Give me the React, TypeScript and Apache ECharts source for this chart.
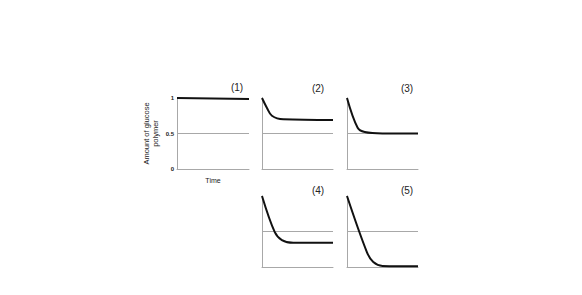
import React, { useEffect, useRef } from "react";
import * as echarts from "echarts";

const panelLabels = ["(1)", "(2)", "(3)", "(4)", "(5)"];
const yTickLabels = ["0", "0.5", "1"];
const yAxisName = "Amount of glucose\npolymer";
const xAxisName = "Time";

// time (0..10) and amount (0..1) for each panel
const time1 = [0, 10];
const amount1 = [1.0, 0.985];
const time2 = [0, 0.7, 1.4, 3, 10];
const amount2 = [1.0, 0.86, 0.75, 0.7, 0.69];
const time3 = [0, 1.5, 2.5, 5, 10];
const amount3 = [1.0, 0.58, 0.52, 0.5, 0.5];
const time4 = [0, 1.8, 2.8, 4.4, 10];
const amount4 = [1.0, 0.49, 0.38, 0.34, 0.34];
const time5 = [0, 2.8, 3.7, 5, 10];
const amount5 = [1.0, 0.21, 0.07, 0.015, 0.01];

const times = [time1, time2, time3, time4, time5];
const amounts = [amount1, amount2, amount3, amount4, amount5];

const grids = [
  { left: 177, top: 98, width: 72, height: 71 },
  { left: 262, top: 98, width: 71, height: 71 },
  { left: 347, top: 98, width: 71, height: 71 },
  { left: 262, top: 196, width: 71, height: 71 },
  { left: 347, top: 196, width: 71, height: 71 },
];
const labelPos = [
  [237, 87],
  [318, 88],
  [407, 88],
  [318, 190],
  [407, 190],
];

const AXIS = "#a8a8a8";
const FONT = "Liberation Sans, Arial, sans-serif";

export default function App() {
  const ref = useRef<HTMLDivElement>(null);
  useEffect(() => {
    if (!ref.current) return;
    const chart = echarts.init(ref.current, undefined, { renderer: "svg" });
    const option: any = {
      animation: false,
      backgroundColor: "#ffffff",
      textStyle: { fontFamily: FONT },
      grid: grids.map((g) => ({ ...g, containLabel: false })),
      xAxis: grids.map((_, i) => ({
        type: "value",
        gridIndex: i,
        min: 0,
        max: 10,
        axisLine: { show: true, lineStyle: { color: AXIS, width: 1 } },
        axisTick: { show: false },
        axisLabel: { show: false },
        splitLine: { show: false },
        name: i === 0 ? xAxisName : "",
        nameLocation: "middle",
        nameGap: 8,
        nameTextStyle: { fontSize: 7, color: "#222", fontFamily: FONT },
      })),
      yAxis: grids.map((_, i) => ({
        type: "value",
        gridIndex: i,
        min: 0,
        max: 1,
        interval: 0.5,
        axisLine: { show: true, onZero: false, lineStyle: { color: AXIS, width: 1 } },
        axisTick: { show: false },
        axisLabel: {
          show: i === 0,
          fontSize: 6,
          fontWeight: "bold",
          color: "#222",
          margin: 3,
          formatter: (v: number) => yTickLabels[Math.round(v * 2)] ?? "",
        },
        splitLine: { show: false },
        name: i === 0 ? yAxisName : "",
        nameLocation: "middle",
        nameRotate: 90,
        nameGap: 17,
        nameTextStyle: { fontSize: 7.5, color: "#222", lineHeight: 9, fontFamily: FONT },
      })),
      series: grids.map((_, i) => ({
        type: "line",
        xAxisIndex: i,
        yAxisIndex: i,
        data: times[i].map((t, k) => [t, amounts[i][k]]),
        smooth: 0.35,
        symbol: "none",
        clip: false,
        lineStyle: { color: "#111", width: 2 },
        markLine: {
          silent: true,
          symbol: "none",
          label: { show: false },
          lineStyle: { color: AXIS, width: 1, type: "solid" },
          data: [{ yAxis: 0.5 }],
        },
        z: 5,
      })),
      graphic: panelLabels.map((t, i) => ({
        type: "text",
        x: labelPos[i][0],
        y: labelPos[i][1],
        style: {
          text: t,
          fontSize: 10,
          fill: "#222",
          textAlign: "center",
          textVerticalAlign: "middle",
          fontFamily: FONT,
        },
      })),
    };
    chart.setOption(option);
    return () => chart.dispose();
  }, []);
  return (
    <div
      ref={ref}
      style={{ position: "fixed", left: 0, top: 0, width: 582, height: 295 }}
    />
  );
}
